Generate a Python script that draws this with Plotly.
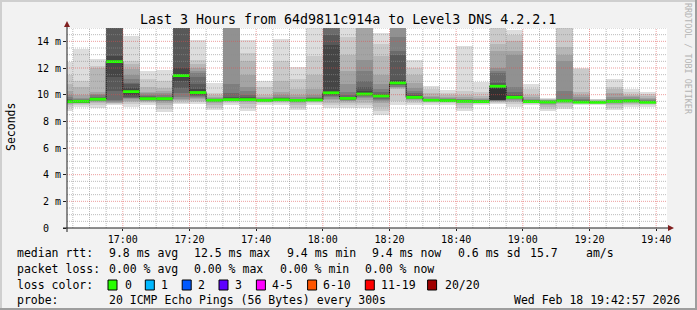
import plotly.graph_objects as go
from datetime import datetime, timedelta

# ---------------- data ----------------
DAY = "2026-02-18"
bar_starts = ["16:40", "16:45", "16:50", "16:55", "17:00", "17:05", "17:10", "17:15", "17:20",
              "17:25", "17:30", "17:35", "17:40", "17:45", "17:50", "17:55", "18:00", "18:05",
              "18:10", "18:15", "18:20", "18:25", "18:30", "18:35", "18:40", "18:45", "18:50",
              "18:55", "19:00", "19:05", "19:10", "19:15", "19:20", "19:25", "19:30", "19:35"]

# median rtt per 5-minute step (ms)
medians = [9.48, 9.50, 9.66, 12.48, 10.23, 9.70, 9.70, 11.43, 10.16, 9.58, 9.63, 9.63,
           9.57, 9.62, 9.57, 9.60, 10.14, 9.72, 10.05, 9.90, 10.88, 9.80, 9.58, 9.55,
           9.50, 9.48, 10.63, 9.80, 9.48, 9.45, 9.53, 9.44, 9.43, 9.50, 9.53, 9.43]

# 20 sorted ping rtts per step (ms), values at 15 are clipped at graph top
pings = [
    [8.8, 9.1, 9.25, 9.3, 9.35, 9.4, 9.42, 9.45, 9.46, 9.47, 9.5, 9.55, 9.6, 9.7, 9.8, 10.0, 10.3, 10.8, 11.5, 12.45],
    [9.05, 9.2, 9.3, 9.35, 9.38, 9.4, 9.42, 9.44, 9.46, 9.47, 9.49, 9.52, 9.56, 9.6, 9.65, 9.72, 10.0, 10.6, 11.0, 13.4],
    [9.0, 9.2, 9.35, 9.45, 9.5, 9.55, 9.58, 9.6, 9.63, 9.65, 9.67, 9.7, 9.75, 9.85, 9.95, 10.05, 10.2, 12.0, 12.15, 12.7],
    [9.25, 9.3, 9.35, 9.4, 9.45, 9.5, 9.6, 10.3, 11.3, 12.35, 12.6, 12.9, 15, 15, 15, 15, 15, 15, 15, 15],
    [9.1, 9.3, 9.45, 9.55, 9.65, 9.72, 9.78, 9.85, 10.0, 10.2, 10.3, 10.5, 10.8, 10.9, 11.2, 11.5, 11.9, 12.3, 12.5, 14.4],
    [9.2, 9.35, 9.45, 9.5, 9.55, 9.6, 9.62, 9.65, 9.67, 9.69, 9.71, 9.75, 9.8, 9.9, 10.0, 10.1, 10.2, 10.6, 11.2, 11.75],
    [8.7, 8.9, 9.2, 9.4, 9.5, 9.55, 9.6, 9.63, 9.66, 9.69, 9.71, 9.74, 9.78, 9.85, 9.95, 10.1, 10.3, 10.5, 11.0, 11.83],
    [9.3, 9.4, 9.5, 9.6, 9.7, 9.85, 10.1, 10.5, 11.0, 11.35, 11.5, 12.0, 15, 15, 15, 15, 15, 15, 15, 15],
    [9.3, 9.45, 9.55, 9.65, 9.72, 9.8, 9.9, 10.0, 10.1, 10.15, 10.18, 10.4, 10.8, 11.3, 11.6, 11.8, 12.0, 12.3, 12.6, 14.08],
    [8.83, 9.0, 9.2, 9.35, 9.45, 9.5, 9.53, 9.55, 9.56, 9.57, 9.59, 9.61, 9.63, 9.66, 9.7, 9.75, 9.8, 9.95, 10.1, 10.88],
    [9.2, 9.35, 9.45, 9.5, 9.55, 9.58, 9.6, 9.61, 9.62, 9.63, 9.64, 9.7, 9.8, 10.1, 10.8, 15, 15, 15, 15, 15],
    [8.75, 9.0, 9.3, 9.45, 9.5, 9.55, 9.58, 9.6, 9.62, 9.63, 9.64, 9.7, 9.8, 10.0, 10.3, 10.6, 11.5, 12.5, 13.1, 14.1],
    [9.25, 9.35, 9.42, 9.47, 9.5, 9.52, 9.54, 9.55, 9.56, 9.57, 9.58, 9.6, 9.62, 9.65, 9.7, 9.75, 9.85, 10.0, 10.6, 11.0],
    [9.2, 9.35, 9.45, 9.5, 9.55, 9.58, 9.6, 9.61, 9.62, 9.63, 9.64, 9.66, 9.7, 9.75, 9.85, 10.0, 10.2, 11.0, 12.5, 14.2],
    [8.87, 9.0, 9.2, 9.35, 9.45, 9.5, 9.53, 9.55, 9.56, 9.57, 9.58, 9.6, 9.62, 9.65, 9.7, 9.8, 10.0, 10.4, 11.2, 12.05],
    [9.25, 9.35, 9.45, 9.5, 9.54, 9.56, 9.58, 9.6, 9.61, 9.62, 9.63, 9.65, 9.7, 9.75, 9.85, 10.0, 10.4, 11.5, 12.9, 15],
    [9.0, 9.2, 9.4, 9.6, 9.7, 9.8, 9.9, 10.0, 10.05, 10.1, 10.2, 13.7, 14.5, 15, 15, 15, 15, 15, 15, 15],
    [9.0, 9.2, 9.4, 9.5, 9.55, 9.6, 9.63, 9.66, 9.68, 9.7, 9.72, 9.78, 9.85, 10.0, 10.2, 10.8, 11.8, 13.0, 14.3, 15],
    [9.0, 9.2, 9.4, 9.6, 9.75, 9.85, 9.9, 9.95, 10.0, 10.02, 10.05, 10.3, 10.6, 11.0, 11.8, 12.6, 15, 15, 15, 15],
    [8.5, 8.8, 9.1, 9.35, 9.5, 9.6, 9.7, 9.8, 9.85, 9.87, 9.9, 9.95, 10.05, 10.2, 10.4, 10.8, 11.5, 12.9, 13.8, 14.6],
    [9.2, 9.5, 10.45, 10.5, 10.55, 10.6, 10.7, 10.75, 10.8, 10.85, 10.9, 11.1, 13.0, 13.3, 14.3, 15, 15, 15, 15, 15],
    [9.2, 9.35, 9.5, 9.6, 9.65, 9.7, 9.73, 9.75, 9.77, 9.78, 9.8, 9.85, 9.95, 10.1, 10.25, 10.5, 10.9, 11.5, 12.0, 12.57],
    [9.25, 9.35, 9.45, 9.5, 9.52, 9.54, 9.55, 9.56, 9.57, 9.58, 9.59, 9.6, 9.62, 9.65, 9.7, 9.8, 9.9, 10.1, 10.4, 10.62],
    [9.25, 9.35, 9.42, 9.47, 9.5, 9.52, 9.53, 9.54, 9.55, 9.55, 9.56, 9.57, 9.6, 9.63, 9.67, 9.72, 9.8, 9.95, 10.15, 10.32],
    [8.78, 9.0, 9.2, 9.35, 9.42, 9.45, 9.47, 9.48, 9.49, 9.5, 9.51, 9.52, 9.55, 9.6, 9.65, 9.7, 9.8, 9.95, 10.3, 13.68],
    [9.2, 9.3, 9.37, 9.42, 9.44, 9.45, 9.46, 9.47, 9.47, 9.48, 9.49, 9.5, 9.52, 9.55, 9.6, 9.65, 9.75, 9.9, 10.2, 10.93],
    [9.3, 9.4, 9.45, 9.5, 9.52, 9.55, 9.57, 9.58, 9.59, 9.6, 10.5, 10.7, 10.9, 11.6, 11.8, 12.0, 13.3, 13.8, 15, 15],
    [9.05, 9.3, 9.45, 9.55, 9.62, 9.68, 9.72, 9.75, 9.77, 9.78, 9.8, 9.85, 9.95, 10.2, 10.6, 13.0, 13.3, 14.0, 14.5, 14.85],
    [9.2, 9.3, 9.36, 9.4, 9.43, 9.45, 9.46, 9.47, 9.47, 9.48, 9.49, 9.5, 9.52, 9.55, 9.6, 9.7, 9.8, 10.0, 10.4, 10.83],
    [8.75, 8.9, 9.1, 9.25, 9.33, 9.38, 9.4, 9.42, 9.44, 9.45, 9.46, 9.48, 9.5, 9.52, 9.55, 9.58, 9.62, 9.66, 9.7, 9.75],
    [8.95, 9.1, 9.3, 9.4, 9.45, 9.48, 9.5, 9.51, 9.52, 9.53, 9.54, 9.56, 9.6, 9.7, 10.25, 12.5, 13.0, 13.6, 15, 15],
    [9.2, 9.3, 9.35, 9.38, 9.4, 9.41, 9.42, 9.42, 9.43, 9.43, 9.44, 9.45, 9.5, 9.6, 9.7, 9.85, 10.0, 10.2, 11.9, 12.03],
    [9.2, 9.28, 9.33, 9.36, 9.38, 9.4, 9.41, 9.42, 9.42, 9.43, 9.44, 9.45, 9.46, 9.48, 9.5, 9.52, 9.55, 9.6, 9.65, 9.7],
    [8.83, 9.0, 9.2, 9.3, 9.38, 9.42, 9.45, 9.47, 9.48, 9.49, 9.51, 9.53, 9.56, 9.6, 9.7, 9.85, 10.1, 10.4, 10.6, 11.2],
    [9.08, 9.2, 9.3, 9.38, 9.43, 9.47, 9.49, 9.5, 9.51, 9.52, 9.54, 9.56, 9.6, 9.65, 9.7, 9.8, 9.9, 10.0, 10.2, 10.45],
    [9.08, 9.2, 9.3, 9.35, 9.38, 9.4, 9.41, 9.42, 9.43, 9.43, 9.44, 9.45, 9.48, 9.52, 9.58, 9.65, 9.75, 9.9, 10.05, 10.2],
]

y_tick_vals = [0, 2, 4, 6, 8, 10, 12, 14]
y_tick_text = ["0\u00a0\u00a0", "2 m", "4 m", "6 m", "8 m", "10 m", "12 m", "14 m"]
x_tick_text = ["17:00", "17:20", "17:40", "18:00", "18:20", "18:40", "19:00", "19:20", "19:40"]

loss_labels = ["0", "1", "2", "3", "4-5", "6-10", "11-19", "20/20"]
loss_colors = ["#26ff00", "#00b8ff", "#0059ff", "#5e00ff", "#ff00ff", "#ff5500", "#ff0000", "#a00000"]

title = "Last 3 Hours from 64d9811c914a to Level3 DNS 4.2.2.1"
stats_rtt = ["median rtt:", "9.8 ms avg", "12.5 ms max", "9.4 ms min", "9.4 ms now", "0.6 ms sd", "15.7", "am/s"]
stats_loss = ["packet loss:", "0.00 % avg", "0.00 % max", "0.00 % min", "0.00 % now"]
probe_text = ["probe:", "20 ICMP Echo Pings (56 Bytes) every 300s"]
stamp = "Wed Feb 18 19:42:57 2026"

STEP_S = 300
Y_MAX = 15.0
X_START = datetime.fromisoformat(DAY + " 16:43:15")
X_END = datetime.fromisoformat(DAY + " 19:43:15")

# ---------------- geometry helpers ----------------
W, H = 697, 310
ML, MR, MT, MB = 67, 30, 28, 82
PW, PH = W - ML - MR, H - MT - MB


def px(X):
    return (X - ML) / PW


def py(Y):
    return (H - MB - Y) / PH


FONT = "DejaVu Sans Mono"

starts = [datetime.fromisoformat(f"{DAY} {s}") for s in bar_starts]
centers = [s + timedelta(seconds=STEP_S / 2) for s in starts]

fig = go.Figure()

# smoke: band k spans ping k .. ping (21-k), darker toward the middle
n = 20
half = n // 2
for k in range(1, half + 1):
    g = int(190 / half * (half - k)) + 50
    base = [min(p[k - 1], Y_MAX) for p in pings]
    top = [min(p[n - k], Y_MAX) for p in pings]
    fig.add_trace(go.Bar(
        x=centers, y=[t - b for t, b in zip(top, base)], base=base,
        width=STEP_S * 1000,
        marker=dict(color=f"rgb({g},{g},{g})", line=dict(width=0)),
        hoverinfo="skip", showlegend=False))

# thin dark median step line
fig.add_trace(go.Scatter(
    x=starts + [starts[-1] + timedelta(seconds=STEP_S)], y=medians + [medians[-1]],
    mode="lines", line=dict(color="#202020", width=1, shape="hv"),
    hoverinfo="skip", showlegend=False))

# green median segments
gx, gy = [], []
for s, m in zip(starts, medians):
    gx += [s, s + timedelta(seconds=STEP_S), None]
    gy += [m, m, None]
fig.add_trace(go.Scatter(x=gx, y=gy, mode="lines",
                         line=dict(color=loss_colors[0], width=2.8),
                         hoverinfo="skip", showlegend=False))

shapes = []
GRID = "rgba(143,143,143,0.6)"
MGRID = "rgba(222,79,79,0.55)"
DASH = "1px,1px"

# vertical grid
t = datetime.fromisoformat(DAY + " 16:45")
while t <= X_END:
    major = (t.minute % 20 == 0)
    shapes.append(dict(type="line", xref="x", yref="paper", x0=t, x1=t, y0=0, y1=1,
                       line=dict(color=MGRID if major else GRID, width=1, dash=DASH), layer="above"))
    t += timedelta(minutes=5)
# horizontal grid
v = 0.5
while v <= Y_MAX + 1e-9:
    major = abs(v / 2 - round(v / 2)) < 1e-9
    shapes.append(dict(type="line", xref="paper", yref="y", x0=0, x1=1, y0=v, y1=v,
                       line=dict(color=MGRID if major else GRID, width=1, dash=DASH), layer="above"))
    v += 0.5

AXIS = "#1f1f1f"
ARROW = "#801f1f"
# axis lines
shapes.append(dict(type="line", xref="paper", yref="paper", x0=px(63), x1=px(669), y0=0, y1=0,
                   line=dict(color=AXIS, width=1), layer="above"))
shapes.append(dict(type="line", xref="paper", yref="paper", x0=0, x1=0, y0=py(232), y1=py(24),
                   line=dict(color=AXIS, width=1), layer="above"))
# arrows
shapes.append(dict(type="path", xref="paper", yref="paper",
                   path=f"M {px(668)} {py(225)} L {px(674)} {py(228)} L {px(668)} {py(231)} Z",
                   fillcolor=ARROW, line=dict(width=0), layer="above"))
shapes.append(dict(type="path", xref="paper", yref="paper",
                   path=f"M {px(64)} {py(27)} L {px(67)} {py(21)} L {px(70)} {py(27)} Z",
                   fillcolor=ARROW, line=dict(width=0), layer="above"))

# 3D frame
shapes += [
    dict(type="rect", xref="paper", yref="paper", x0=px(0), x1=px(W), y0=py(2), y1=py(0),
         fillcolor="#cfcfcf", line=dict(width=0), layer="below"),
    dict(type="rect", xref="paper", yref="paper", x0=px(0), x1=px(2), y0=py(H), y1=py(0),
         fillcolor="#cfcfcf", line=dict(width=0), layer="below"),
    dict(type="rect", xref="paper", yref="paper", x0=px(0), x1=px(W), y0=py(H), y1=py(H - 2),
         fillcolor="#9e9e9e", line=dict(width=0), layer="below"),
    dict(type="rect", xref="paper", yref="paper", x0=px(W - 2), x1=px(W), y0=py(H), y1=py(0),
         fillcolor="#9e9e9e", line=dict(width=0), layer="below"),
]

annotations = []


def text(X, Y, s, size=11.5, anchor="left", color="#000000", angle=0):
    annotations.append(dict(xref="paper", yref="paper", x=px(X), y=py(Y), text=s,
                            showarrow=False, xanchor=anchor, yanchor="middle",
                            textangle=angle, borderpad=0,
                            font=dict(family=FONT, size=size, color=color)))


text(348, 19, title, size=13.3, anchor="center")
text(11, 127, "Seconds", size=11.5, anchor="center", angle=-90)
text(688, 59, "RRDTOOL / TOBI OETIKER", size=8.4, anchor="center", color="#b4b4b4", angle=90)

rtt_x = [15.6, 107.6, 193.3, 285.8, 371.0, 456.5, 528.5, 585.0]
for X, s in zip(rtt_x, stats_rtt):
    text(X, 253, s)
loss_x = [15.6, 107.6, 193.3, 279.0, 364.4]
for X, s in zip(loss_x, stats_loss):
    text(X, 269, s)
text(15.6, 285, "loss color:")
box_x = [108.0, 145.3, 182.2, 219.0, 256.4, 307.6, 365.3, 427.6]
lab_x = [123.6, 160.0, 196.9, 234.0, 271.0, 322.0, 380.0, 444.4]
for bx, lx, lab, col in zip(box_x, lab_x, loss_labels, loss_colors):
    shapes.append(dict(type="rect", xref="paper", yref="paper", x0=px(bx), x1=px(bx + 9),
                       y0=py(290), y1=py(280), fillcolor=col,
                       line=dict(color="#000000", width=1)))
    text(lx, 285, lab)
text(15.6, 300, probe_text[0])
text(108, 300, probe_text[1])
text(681, 300, stamp, anchor="right")

x_tick_vals = [datetime.fromisoformat(f"{DAY} {s}") for s in x_tick_text]

fig.update_layout(
    width=W, height=H, autosize=False,
    margin=dict(l=ML, r=MR, t=MT, b=MB, pad=0),
    paper_bgcolor="#f2f2f2", plot_bgcolor="#ffffff",
    barmode="overlay", bargap=0,
    showlegend=False,
    shapes=shapes, annotations=annotations,
    font=dict(family=FONT, size=10, color="#000000"),
    xaxis=dict(type="date", range=[X_START, X_END], showgrid=False, zeroline=False,
               showline=False, tickvals=x_tick_vals, ticktext=x_tick_text,
               ticks="outside", ticklen=2, tickcolor=AXIS, tickwidth=1,
               tickfont=dict(family=FONT, size=10, color="#000000"),
               fixedrange=True),
    yaxis=dict(range=[0, Y_MAX], showgrid=False, zeroline=False, showline=False,
               tickvals=y_tick_vals, ticktext=y_tick_text,
               ticks="outside", ticklen=3, tickcolor=AXIS, tickwidth=1,
               tickfont=dict(family=FONT, size=10, color="#000000"),
               fixedrange=True),
)

fig.write_html("out.html", include_plotlyjs=True, config={"displayModeBar": False})
